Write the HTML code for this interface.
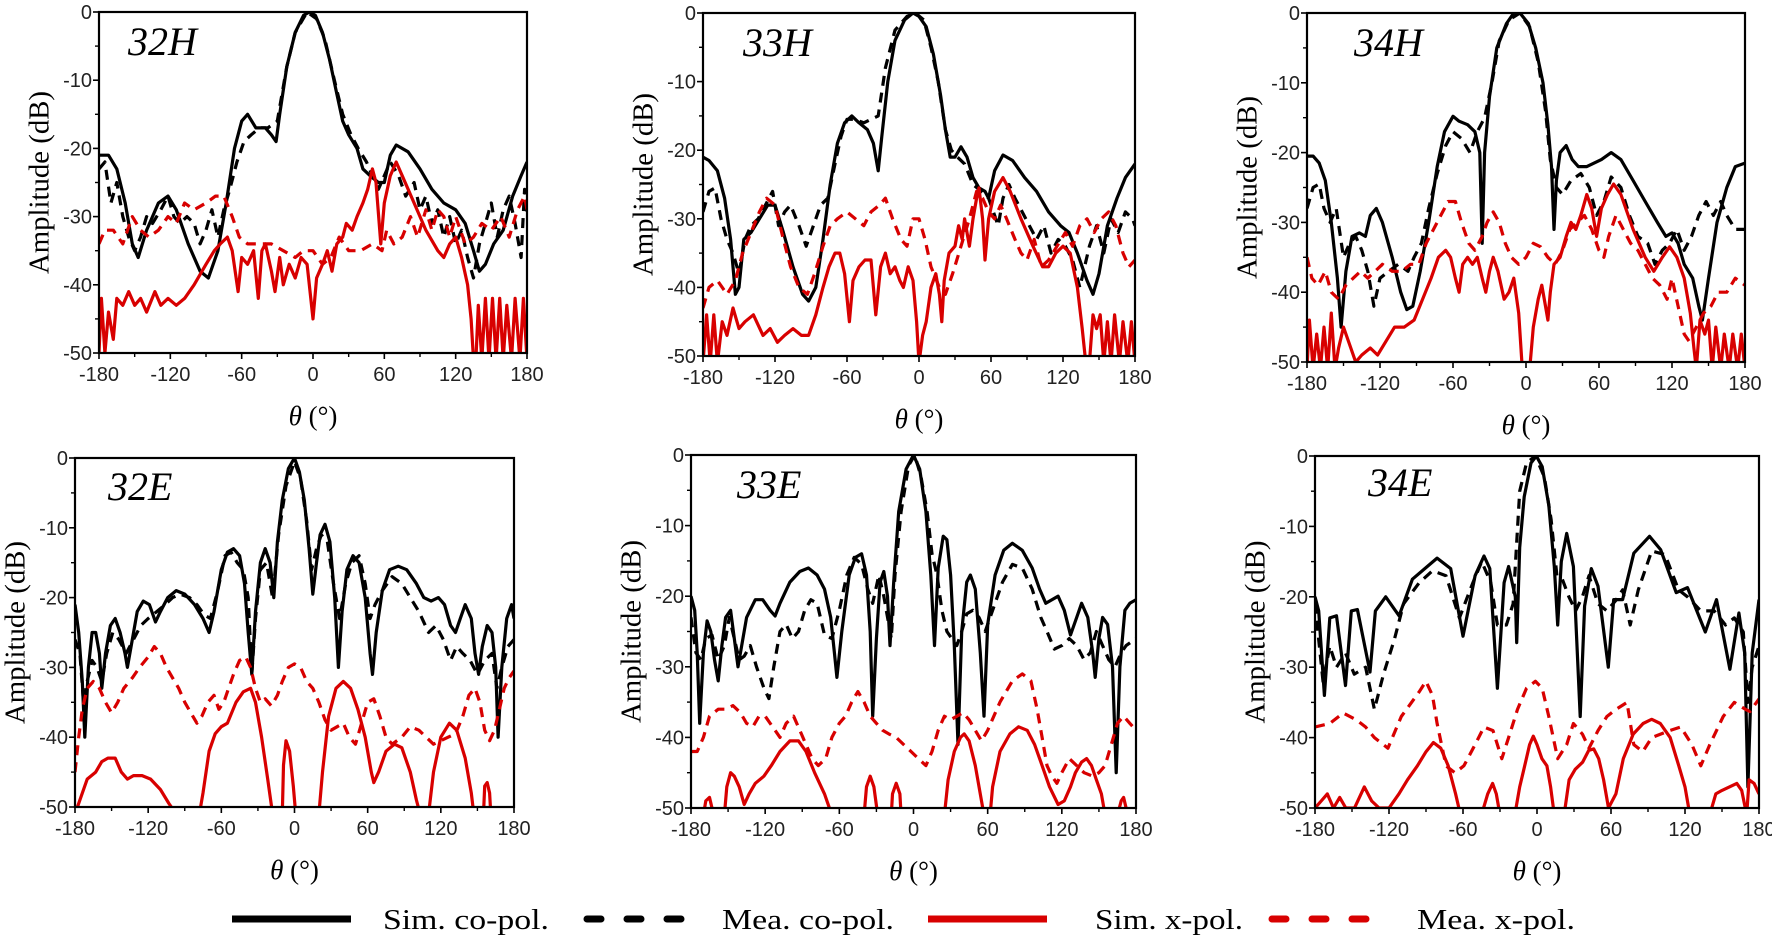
<!DOCTYPE html>
<html><head><meta charset="utf-8"><style>
html,body{margin:0;padding:0;background:#fff;}
svg{display:block;}
</style></head><body>
<svg id="fig" width="1772" height="938" viewBox="0 0 1772 938" xmlns="http://www.w3.org/2000/svg"></svg>
<script>
// ---------- data: [theta (deg), amplitude (dB)] ----------
const p32H_simCo=[[-180,-21],[-172,-21],[-165,-23],[-158,-28],[-152,-34],[-147,-36],[-140,-32],[-130,-28],[-122,-27],[-115,-29],[-105,-34],[-95,-38],[-88,-39],[-80,-35],[-73,-28],[-66,-20],[-60,-16],[-55,-15],[-48,-17],[-40,-17],[-35,-18],[-31,-19],[-28,-15],[-22,-8],[-15,-3],[-8,-0.5],[-3,0],[2,-0.5],[8,-3],[14,-7],[20,-12],[25,-16],[30,-18],[37,-20],[42,-23],[48,-24],[55,-25],[60,-25],[65,-21],[70,-19.5],[80,-20.5],[90,-23],[100,-26],[110,-28],[120,-29],[128,-31],[135,-35],[140,-38],[145,-37],[152,-34],[160,-32],[168,-27],[175,-24],[180,-22]];
const p32H_meaCo=[[-180,-23],[-175,-22],[-170,-28],[-165,-25],[-160,-30],[-155,-33],[-150,-35],[-145,-33],[-140,-30],[-135,-31],[-128,-29],[-122,-27],[-117,-30],[-112,-31],[-106,-30],[-100,-31],[-95,-34],[-90,-32],[-85,-29],[-80,-33],[-75,-29],[-70,-26],[-64,-22],[-58,-19],[-52,-18],[-45,-17],[-38,-17],[-30,-16],[-22,-8],[-15,-3],[-5,0],[3,-1],[10,-4],[18,-10],[25,-15],[32,-18],[38,-20],[45,-22],[50,-24],[55,-26],[60,-24],[65,-22],[72,-24],[78,-27],[85,-25],[90,-29],[95,-27],[100,-31],[105,-29],[110,-33],[115,-30],[120,-34],[125,-32],[130,-36],[135,-39],[140,-34],[145,-31],[150,-28],[155,-33],[160,-29],[165,-27],[170,-31],[175,-36],[178,-26],[180,-30]];
const p32H_simX=[[-180,-50],[-178,-42],[-175,-50],[-172,-44],[-168,-48],[-165,-42],[-160,-43],[-155,-41],[-150,-43],[-145,-42],[-140,-44],[-133,-41],[-128,-43],[-122,-42],[-115,-43],[-108,-42],[-100,-40],[-90,-37],[-83,-35],[-78,-34],[-72,-33],[-68,-35],[-63,-41],[-60,-36],[-55,-37],[-50,-35],[-46,-42],[-43,-35],[-40,-34],[-35,-38],[-32,-41],[-28,-36],[-25,-40],[-20,-37],[-15,-39],[-10,-36],[-5,-37],[0,-45],[3,-39],[8,-37],[12,-35],[16,-38],[20,-34],[25,-33],[28,-31],[33,-32],[37,-30],[42,-28],[46,-26],[50,-23],[53,-25],[57,-34],[60,-28],[65,-24],[70,-22],[75,-24],[85,-28],[95,-32],[105,-35],[110,-36],[115,-34],[120,-33],[125,-36],[130,-40],[133,-45],[135,-51],[137,-51],[139,-43],[142,-51],[145,-42],[148,-51],[151,-42],[154,-51],[157,-42],[160,-51],[163,-43],[167,-51],[170,-42],[174,-51],[177,-42],[180,-51]];
const p32H_meaX=[[-180,-34],[-175,-32],[-168,-32],[-160,-34],[-152,-30],[-145,-32],[-138,-33],[-130,-32],[-122,-30],[-115,-31],[-108,-28],[-100,-29],[-90,-28],[-82,-27],[-75,-27],[-68,-30],[-62,-33],[-55,-34],[-45,-34],[-35,-34],[-25,-35],[-15,-36],[-8,-35],[0,-35],[8,-37],[15,-36],[22,-33],[30,-35],[40,-35],[50,-34],[58,-35],[62,-32],[68,-34],[75,-33],[82,-30],[88,-33],[95,-29],[100,-32],[105,-29],[110,-30],[115,-33],[120,-30],[128,-34],[135,-33],[142,-31],[150,-32],[158,-30],[165,-33],[172,-29],[178,-27],[180,-29]];

const p33H_simCo=[[-180,-21],[-175,-21.5],[-168,-23],[-162,-27],[-157,-33],[-153,-41],[-150,-40],[-146,-33],[-140,-32],[-133,-30],[-126,-28],[-120,-28],[-113,-32],[-105,-37],[-97,-41],[-92,-42],[-86,-40],[-80,-33],[-74,-25],[-68,-19],[-62,-16],[-56,-15],[-50,-16],[-43,-17],[-38,-19],[-34,-23],[-31,-18],[-26,-10],[-20,-4],[-12,-1],[-5,0],[0,-0.5],[6,-2],[12,-6],[18,-12],[22,-17],[26,-21],[30,-21],[35,-19.5],[40,-21],[45,-24],[50,-25.5],[55,-26],[58,-27],[63,-23],[70,-20.7],[78,-21.5],[88,-24],[98,-26],[108,-29],[118,-31],[125,-32],[132,-35],[140,-39],[145,-41],[150,-38],[157,-31],[165,-27],[172,-24],[180,-22]];
const p33H_meaCo=[[-180,-29],[-175,-26],[-170,-25.5],[-165,-30],[-160,-33],[-155,-35],[-150,-38],[-145,-33],[-140,-31],[-134,-30],[-128,-28],[-122,-26],[-117,-31],[-112,-29],[-107,-28],[-100,-31],[-94,-34],[-88,-31],[-82,-28],[-76,-27],[-70,-22],[-65,-18],[-60,-15.5],[-54,-15.5],[-46,-16],[-40,-15.5],[-34,-15],[-28,-8],[-20,-2.5],[-10,-0.5],[-3,0],[4,-1],[10,-5],[16,-10],[22,-17],[27,-20],[32,-21],[38,-22],[45,-25],[52,-26],[58,-27],[62,-29],[66,-31],[70,-27],[75,-25],[80,-27],[86,-29],[92,-31],[98,-33],[104,-31],[110,-35],[116,-33],[122,-34],[128,-36],[134,-40],[138,-37],[142,-34],[148,-31],[154,-35],[160,-30],[166,-32],[172,-29],[178,-30],[180,-31]];
const p33H_simX=[[-180,-51],[-177,-44],[-174,-51],[-171,-44],[-168,-51],[-164,-45],[-160,-47],[-155,-43],[-150,-46],[-145,-45],[-138,-44],[-130,-47],[-124,-46],[-118,-48],[-112,-47],[-105,-46],[-98,-47],[-92,-47],[-86,-44],[-80,-40],[-75,-37],[-70,-35],[-66,-35],[-62,-38],[-58,-45],[-55,-39],[-50,-37],[-45,-36],[-40,-36],[-36,-44],[-32,-37],[-28,-35],[-24,-38],[-20,-37],[-16,-39],[-13,-40],[-9,-37],[-5,-39],[-2,-45],[0,-51],[3,-47],[6,-45],[10,-40],[14,-38],[17,-41],[19,-45],[21,-39],[25,-35],[30,-34],[33,-31],[36,-33],[38,-30],[42,-34],[45,-30],[48,-27],[50,-25.5],[53,-30],[55,-36],[58,-30],[63,-26],[70,-24],[76,-26],[85,-30],[95,-34],[103,-37],[108,-37],[114,-35],[120,-34],[126,-35],[132,-40],[136,-46],[139,-51],[142,-51],[145,-44],[148,-46],[151,-44],[154,-51],[157,-45],[160,-51],[163,-44],[167,-51],[170,-45],[174,-51],[177,-45],[180,-51]];
const p33H_meaX=[[-180,-43],[-175,-40],[-168,-39],[-160,-41],[-153,-39],[-147,-35],[-140,-32],[-133,-29],[-127,-27],[-120,-28],[-113,-33],[-107,-37],[-100,-40],[-93,-41],[-87,-38],[-80,-34],[-74,-31],[-68,-30],[-60,-29],[-53,-30],[-46,-31],[-40,-29],[-33,-28],[-28,-27],[-22,-30],[-15,-33],[-10,-34],[-5,-30],[0,-30],[5,-33],[10,-37],[17,-40],[22,-41],[28,-38],[35,-34],[42,-30],[48,-26],[53,-27],[58,-29],[63,-30],[68,-28],[73,-30],[80,-33],[85,-35],[90,-36],[96,-33],[102,-37],[108,-36],[115,-34],[122,-32],[128,-34],[134,-31],[140,-30],[146,-32],[152,-30],[158,-29],[164,-31],[170,-35],[175,-37],[180,-36]];

const p34H_simCo=[[-180,-20.5],[-175,-20.5],[-170,-21.5],[-165,-24],[-160,-30],[-155,-38],[-152,-45],[-148,-37],[-143,-32],[-137,-31.5],[-132,-32],[-128,-29],[-123,-28],[-118,-30],[-110,-35],[-103,-40],[-98,-42.5],[-93,-42],[-87,-37],[-80,-30],[-73,-22],[-67,-17],[-60,-14.8],[-55,-15.5],[-48,-16],[-42,-17],[-38,-20],[-36,-33],[-34,-20],[-30,-12],[-24,-5],[-16,-1.5],[-10,0],[-5,0],[2,-1.5],[8,-5],[14,-10],[18,-16],[21,-22],[23,-31],[25,-24],[28,-20],[33,-19],[38,-21],[43,-22],[50,-22],[56,-21.5],[62,-21],[70,-20],[78,-21],[88,-24],[98,-27],[108,-30],[115,-32],[120,-31.5],[125,-33],[130,-36],[137,-38],[142,-42],[145,-44],[150,-38],[157,-30],[165,-25],[172,-22],[180,-21.5]];
const p34H_meaCo=[[-180,-28],[-175,-25],[-170,-24.5],[-166,-28],[-161,-30],[-156,-28],[-150,-35],[-145,-33],[-140,-32],[-135,-34],[-130,-37],[-125,-42],[-120,-38],[-113,-37],[-105,-36],[-97,-37],[-92,-35],[-86,-33],[-80,-28],[-73,-23],[-66,-19],[-60,-17],[-53,-18],[-46,-20],[-40,-17],[-34,-15],[-28,-10],[-22,-4],[-14,-1],[-5,0],[3,-2],[10,-7],[16,-14],[20,-21],[25,-25],[30,-26],[37,-24],[45,-23],[52,-25],[58,-29],[64,-27],[70,-23.5],[78,-25],[85,-29],[92,-32],[100,-33],[106,-36],[112,-34],[118,-33],[124,-31],[130,-34],[136,-32],[142,-29],[148,-27],[154,-29],[160,-27],[165,-29],[172,-31],[180,-31]];
const p34H_simX=[[-180,-51],[-178,-44],[-175,-51],[-172,-46],[-169,-51],[-166,-45],[-163,-51],[-160,-43],[-157,-51],[-154,-48],[-150,-45],[-146,-47],[-140,-50],[-135,-49],[-128,-48],[-122,-49],[-115,-47],[-108,-45],[-100,-45],[-92,-44],[-85,-41],[-78,-38],[-72,-35],[-66,-34],[-62,-35],[-58,-38],[-55,-40],[-52,-36],[-48,-35],[-44,-36],[-40,-35],[-36,-38],[-33,-40],[-30,-37],[-27,-35],[-23,-37],[-18,-41],[-14,-40],[-10,-38],[-6,-43],[-3,-51],[3,-51],[6,-45],[10,-41],[13,-39],[16,-42],[18,-44],[20,-40],[23,-36],[28,-35],[33,-32],[37,-30],[41,-31],[45,-29],[50,-26],[54,-28],[58,-32],[62,-28],[67,-26],[72,-24.5],[78,-26],[88,-31],[98,-35],[105,-37],[112,-35],[118,-33.5],[124,-35],[130,-38],[135,-43],[138,-48],[140,-51],[143,-44],[147,-46],[150,-44],[153,-51],[156,-45],[160,-51],[163,-46],[167,-51],[170,-46],[174,-51],[177,-46],[180,-51]];
const p34H_meaX=[[-180,-35],[-176,-38],[-171,-39],[-165,-37],[-160,-40],[-154,-41],[-148,-39],[-142,-38],[-136,-37],[-130,-38],[-124,-37],[-118,-36],[-110,-37],[-102,-37],[-95,-36],[-88,-36],[-82,-33],[-76,-31],[-70,-29],[-64,-27],[-58,-27],[-53,-30],[-47,-33],[-42,-34],[-36,-32],[-32,-30],[-27,-28.5],[-22,-30],[-17,-33],[-12,-35],[-6,-36],[0,-35],[6,-33],[12,-33.5],[18,-35],[24,-36],[30,-34],[36,-31],[42,-30],[48,-29],[54,-31],[60,-34],[64,-35],[68,-32],[74,-29],[80,-31],[86,-33],[92,-34],[98,-36],[104,-38],[110,-39],[116,-41],[120,-38],[125,-42],[130,-46],[134,-47],[140,-45],[146,-43],[152,-42],[158,-40],[165,-40],[172,-38],[180,-39]];

const p32E_simCo=[[-180,-21],[-177,-25],[-174,-32],[-172,-40],[-169,-30],[-166,-25],[-163,-25],[-160,-28],[-158,-33],[-155,-28],[-151,-24],[-147,-23],[-143,-25],[-139,-28],[-137,-30],[-134,-27],[-129,-22],[-124,-20.5],[-119,-21],[-114,-23.5],[-110,-22],[-104,-20],[-97,-19],[-90,-19.5],[-82,-21],[-75,-23],[-70,-25],[-66,-22],[-60,-16],[-55,-13.5],[-50,-13],[-45,-14],[-41,-18],[-38,-25],[-35,-31],[-32,-22],[-28,-15],[-24,-13],[-20,-15],[-17,-20],[-14,-12],[-10,-6],[-5,-1.5],[0,0],[4,-2],[8,-6],[12,-13],[15,-19.5],[18,-15],[21,-11],[25,-9.5],[29,-12],[33,-20],[36,-30],[39,-22],[43,-16],[48,-14],[53,-15],[58,-20],[62,-28],[64,-31],[67,-25],[72,-19],[78,-16],[85,-15.5],[92,-16],[100,-18],[106,-20],[112,-20.5],[118,-20],[123,-21],[128,-24],[132,-25],[136,-23],[140,-21],[145,-23],[148,-28],[151,-31],[154,-27],[158,-24],[162,-25],[165,-30],[167,-40],[170,-30],[174,-23],[178,-21],[180,-23]];
const p32E_meaCo=[[-180,-26],[-176,-28],[-173,-35],[-170,-32],[-166,-29],[-162,-30],[-158,-32],[-154,-28],[-149,-25],[-144,-26],[-138,-28],[-132,-26],[-126,-24],[-120,-23],[-113,-22],[-106,-21],[-100,-20],[-94,-19.5],[-86,-20],[-80,-21],[-74,-22.5],[-69,-23],[-63,-19],[-57,-14],[-52,-13.5],[-47,-15],[-42,-16],[-38,-20],[-35,-31],[-32,-23],[-28,-16],[-23,-15],[-18,-20],[-13,-11],[-7,-4],[0,-0.5],[5,-3],[10,-9],[14,-16],[18,-13],[22,-11],[27,-12],[32,-18],[37,-23],[42,-18],[47,-15],[53,-14],[58,-18],[62,-23],[66,-21],[72,-19],[80,-17],[88,-18],[95,-20],[102,-22],[110,-25],[116,-24],[122,-26],[128,-29],[133,-27],[138,-28],[144,-29],[150,-31],[156,-29],[162,-28],[166,-33],[170,-30],[175,-27],[180,-26]];
const p32E_simX=[[-180,-51],[-176,-49],[-170,-46],[-163,-45],[-158,-43.5],[-153,-43],[-147,-43],[-142,-45],[-137,-46],[-132,-45.5],[-125,-45.5],[-118,-46],[-110,-47.5],[-103,-49.5],[-97,-51],[-78,-51],[-75,-48],[-70,-42],[-65,-39.5],[-60,-38.5],[-55,-38],[-48,-35],[-42,-33.5],[-36,-33],[-32,-35],[-27,-40],[-22,-46],[-18,-51],[-10,-51],[-9,-44],[-7,-40.5],[-4,-42],[-1,-47],[1,-51],[20,-51],[23,-45],[28,-37],[34,-33],[40,-32],[46,-33],[52,-36],[58,-40],[63,-45],[65,-46.5],[69,-45],[75,-42],[82,-41],[88,-41.5],[95,-45],[100,-49],[103,-51],[110,-51],[114,-45],[120,-40],[127,-38],[133,-39],[140,-43],[145,-48],[147,-51],[155,-51],[156,-47],[158,-46.5],[160,-48],[161,-51],[180,-51]];
const p32E_meaX=[[-180,-45],[-177,-40],[-174,-36],[-170,-33],[-165,-32],[-160,-33],[-155,-35],[-150,-36.5],[-145,-35],[-140,-33],[-133,-31.5],[-127,-30],[-120,-28.5],[-115,-27],[-110,-28],[-105,-30],[-100,-31.5],[-95,-33],[-90,-35],[-85,-36.5],[-80,-38],[-76,-37],[-71,-35],[-66,-34],[-62,-36],[-58,-35],[-54,-33],[-50,-31],[-45,-29],[-40,-28.5],[-36,-30],[-32,-33],[-28,-35],[-24,-34.5],[-19,-35.5],[-14,-34],[-10,-32],[-5,-30],[0,-29.5],[5,-30],[10,-32],[15,-33],[20,-35],[25,-37.5],[30,-39],[35,-38.5],[40,-38],[45,-40],[50,-41],[55,-38],[60,-35],[65,-34.5],[70,-37],[75,-40],[80,-41],[88,-40],[95,-38.5],[102,-39],[108,-40],[114,-41],[120,-40.5],[126,-40],[132,-39.5],[138,-37],[143,-34],[148,-33],[152,-35],[156,-39],[160,-40.5],[164,-39],[168,-36],[172,-33],[176,-31.5],[180,-30.5]];

const p33E_simCo=[[-180,-20],[-177,-22],[-175,-28],[-173,-38],[-170,-28],[-167,-23.5],[-164,-25],[-161,-29],[-158,-32],[-155,-27],[-152,-23],[-148,-22],[-145,-26],[-142,-30],[-139,-27],[-135,-23],[-128,-20.5],[-122,-20.5],[-116,-22],[-112,-22.8],[-108,-21],[-100,-18],[-92,-16.5],[-85,-16],[-78,-17],[-72,-19],[-67,-23],[-64,-28],[-62,-31.5],[-58,-25],[-52,-17],[-47,-14.5],[-42,-14],[-38,-17],[-35,-25],[-33,-37],[-30,-26],[-27,-18],[-24,-16.5],[-21,-20],[-19,-27],[-16,-18],[-12,-8],[-6,-2],[0,0],[5,-2],[10,-8],[14,-17],[17,-27],[20,-16],[24,-11.5],[27,-12],[30,-17],[33,-27],[36,-41],[39,-25],[43,-18],[46,-17],[50,-19],[54,-28],[57,-37],[60,-24],[66,-17],[73,-13.5],[80,-12.5],[88,-13.5],[96,-16],[102,-19],[107,-21],[112,-20.5],[117,-20],[122,-22],[127,-25.5],[132,-23],[136,-21],[141,-23],[145,-28],[147,-31.5],[150,-26],[153,-23],[157,-24],[161,-30],[164,-45],[167,-30],[171,-22],[175,-21],[180,-20.5]];
const p33E_meaCo=[[-180,-23],[-176,-28],[-172,-29],[-168,-26],[-163,-25.5],[-158,-29],[-153,-27],[-149,-23],[-145,-26],[-141,-29],[-137,-28.5],[-132,-27],[-127,-30],[-121,-33],[-117,-34.5],[-113,-30],[-108,-25],[-103,-24],[-98,-26],[-93,-25],[-88,-22],[-83,-20.5],[-78,-21],[-72,-25.5],[-66,-26],[-60,-22],[-54,-17],[-48,-14.5],[-42,-15.5],[-37,-19],[-33,-21],[-28,-17],[-24,-20],[-18,-26],[-15,-17],[-10,-8],[-4,-1.5],[1,0],[6,-3],[11,-8],[15,-14],[19,-17],[23,-22],[27,-25],[31,-26],[35,-27],[39,-25],[43,-22.5],[48,-22],[53,-23],[58,-25],[64,-22],[72,-18],[80,-15.5],[88,-16],[96,-19],[103,-23],[108,-25],[114,-27.5],[120,-27],[126,-26],[132,-27],[138,-29],[143,-28],[148,-25],[153,-27],[158,-29],[163,-30],[168,-28],[172,-27],[176,-26.5],[180,-26]];
const p33E_simX=[[-180,-51],[-170,-51],[-168,-49],[-165,-48.5],[-163,-50],[-161,-51],[-153,-51],[-151,-47],[-148,-45],[-145,-45.5],[-141,-47],[-137,-49.5],[-133,-48],[-128,-46.5],[-121,-45.5],[-115,-44],[-108,-42],[-100,-40.5],[-93,-40.5],[-87,-42],[-80,-45],[-72,-48],[-68,-50],[-65,-51],[-40,-51],[-38,-47],[-35,-45.5],[-32,-47],[-29,-51],[-18,-51],[-17,-48],[-14,-46.5],[-11,-48],[-10,-51],[25,-51],[28,-46],[33,-42],[38,-40],[41,-39.5],[45,-40.5],[50,-44],[55,-49],[57,-51],[62,-51],[64,-47],[70,-42],[78,-39.5],[85,-38.5],[92,-39],[98,-41],[104,-44],[110,-47],[117,-49.5],[122,-49],[127,-47],[131,-45],[136,-43.5],[140,-43],[144,-44],[148,-46],[152,-48],[155,-51],[165,-51],[168,-49],[170,-48.5],[172,-50],[173,-51],[180,-51]];
const p33E_meaX=[[-180,-42],[-175,-42],[-170,-40],[-165,-37],[-158,-36],[-152,-36],[-146,-35.5],[-140,-36.5],[-135,-38],[-130,-38.5],[-125,-37],[-120,-37],[-114,-38.5],[-108,-40],[-103,-38],[-97,-37],[-92,-39],[-87,-41],[-82,-43],[-77,-44],[-71,-43],[-66,-40],[-60,-38],[-55,-37],[-50,-35],[-45,-33.5],[-40,-35],[-35,-37],[-30,-38],[-25,-39],[-20,-39.5],[-14,-40],[-8,-41],[-2,-42],[4,-43],[10,-44],[15,-42],[20,-39],[25,-37],[30,-37.5],[35,-37],[40,-36.5],[45,-37.5],[50,-39],[55,-40.5],[60,-39],[65,-37],[70,-35],[75,-33.5],[80,-32],[88,-31],[95,-32],[100,-36],[104,-40],[108,-44],[112,-45.5],[116,-46.5],[120,-45],[126,-43],[132,-44],[138,-45],[145,-45.5],[150,-45],[155,-44],[160,-41],[165,-38],[170,-37],[175,-38],[180,-39]];

const p34E_simCo=[[-180,-20],[-177,-22],[-172.4,-34],[-168,-23],[-162.6,-22.7],[-155.3,-32.6],[-150.6,-22],[-145.6,-21.8],[-135.4,-30.7],[-131,-22],[-122.7,-20],[-111.8,-22.7],[-101,-17.5],[-81,-14.5],[-70,-16],[-60,-25.6],[-50.2,-17],[-43,-14.2],[-38.3,-16],[-32.1,-33],[-26.7,-18],[-23,-15.7],[-17.6,-20],[-16.5,-26.5],[-14,-13],[-10.4,-5.8],[-4.9,-1],[-0.6,0],[4.2,-1.5],[9.6,-7],[14,-15.7],[16.8,-24],[19.7,-15],[24.1,-11],[29.5,-15.7],[35,-37],[38.6,-21.3],[44,-16],[49.5,-18.5],[57.8,-30],[62.2,-20.4],[69.4,-20.4],[78.5,-13.8],[91.2,-11.4],[100.2,-13.3],[112.9,-19.4],[122,-18.7],[136.5,-25],[145.5,-20.4],[156.4,-30.3],[163.7,-22.3],[168.4,-28],[171,-47],[174.5,-28],[180,-20.4]];
const p34E_meaCo=[[-180,-21],[-173.5,-32],[-168,-27],[-162.6,-30],[-155.3,-28],[-148.1,-31],[-139,-30],[-131.8,-36],[-124.5,-31],[-115.5,-26],[-108.2,-21],[-95.5,-18],[-84.7,-16.3],[-73.8,-17],[-62.9,-23],[-52,-18],[-44.8,-15],[-37.5,-18],[-32.1,-24],[-24.8,-24],[-19.4,-21],[-14,-5],[-8.5,-1],[-1.3,0],[6,-3],[11.4,-9],[16.1,-17],[20.5,-17.5],[25.9,-20],[31.3,-22],[36.8,-20],[42.2,-17],[49.5,-21],[56.7,-22],[64,-20.5],[69.4,-19],[75.6,-24],[82.1,-19],[93,-13.5],[103.8,-14],[114.7,-19],[122,-20],[132.8,-22],[143.7,-22],[152.8,-24],[160,-23],[167.3,-25],[171,-35],[174.5,-30],[180,-27]];
const p34E_simX=[[-180,-50],[-175,-49],[-170,-48],[-165,-50],[-160,-48.5],[-155,-50],[-148,-50],[-140,-47],[-134,-49],[-128,-50],[-120,-50],[-112,-48],[-105,-46],[-97,-44],[-90,-42],[-84,-40.7],[-78,-41.5],[-72,-44],[-66,-48],[-62,-51],[-45,-51],[-40,-48],[-36,-46.5],[-33,-48],[-30,-51],[-18,-51],[-14,-47],[-10,-44],[-6,-41],[-3,-39.8],[0,-41],[4,-43],[8,-44],[11,-47],[14,-51],[22,-51],[26,-46],[31,-44.5],[37,-43.5],[42,-41.8],[46,-41.6],[50,-43],[54,-46],[58,-50],[64,-48],[70,-43],[78,-39.5],[86,-38],[93,-37.4],[100,-38],[108,-40],[115,-44],[120,-47],[124,-51],[140,-51],[145,-48],[150,-47.5],[156,-47],[162,-46.5],[166,-47.5],[170,-51],[172,-46],[176,-46.5],[180,-48]];
const p34E_meaX=[[-180,-38.5],[-168,-38],[-157.2,-36.5],[-146.3,-37.5],[-139,-38.5],[-131.8,-40],[-120.9,-41.5],[-110,-37],[-95.5,-33.5],[-90.1,-32],[-84.7,-34],[-81,-38],[-73.8,-44],[-66.5,-45],[-59.3,-44],[-50.2,-41],[-43,-38.5],[-35.7,-39],[-28.5,-43],[-23,-40],[-15.8,-36],[-8.5,-33],[-1.3,-32],[4.2,-33],[9.6,-37],[16.8,-43],[24.1,-41],[29.5,-38],[36.8,-39.5],[42.2,-41.5],[49.5,-39],[56.7,-37],[64,-36],[73,-35],[78.5,-41],[85.7,-42],[93,-40],[100.2,-39.5],[107.5,-39],[116.5,-38.5],[125.6,-41],[132.8,-44],[140.1,-41],[151,-37],[160,-35],[169.1,-36],[172.7,-36.3],[180,-34.5]];

const xTicks=[-180,-120,-60,0,60,120,180];
const yTicks=[0,-10,-20,-30,-40,-50];
const legendLabels=["Sim. co-pol.","Mea. co-pol.","Sim. x-pol.","Mea. x-pol."];

// ---------- layout ----------
const panels=[
 {id:"32H",l:99,r:527,t:12,b:353,tx:29,ty:43,data:[p32H_simCo,p32H_meaCo,p32H_simX,p32H_meaX]},
 {id:"33H",l:703,r:1135,t:13,b:356,tx:40,ty:43,data:[p33H_simCo,p33H_meaCo,p33H_simX,p33H_meaX]},
 {id:"34H",l:1307,r:1745,t:13,b:362,tx:47,ty:43,data:[p34H_simCo,p34H_meaCo,p34H_simX,p34H_meaX]},
 {id:"32E",l:75,r:514,t:458,b:807,tx:33,ty:42,data:[p32E_simCo,p32E_meaCo,p32E_simX,p32E_meaX]},
 {id:"33E",l:691,r:1136,t:455,b:808,tx:46,ty:43,data:[p33E_simCo,p33E_meaCo,p33E_simX,p33E_meaX]},
 {id:"34E",l:1315,r:1759,t:456,b:808,tx:53,ty:40,data:[p34E_simCo,p34E_meaCo,p34E_simX,p34E_meaX]}
];
const styles=[
 {c:"#000",d:"",n:"sim-co-pol-line"},
 {c:"#000",d:"10 7",n:"mea-co-pol-line"},
 {c:"#d80000",d:"",n:"sim-x-pol-line"},
 {c:"#d80000",d:"10 7",n:"mea-x-pol-line"}
];
const NS="http://www.w3.org/2000/svg";
const svg=document.getElementById("fig");
function mk(tag,attrs,parent){const e=document.createElementNS(NS,tag);for(const k in attrs)e.setAttribute(k,attrs[k]);(parent||svg).appendChild(e);return e;}
const defs=mk("defs",{});
panels.forEach((p,pi)=>{
  const xs=th=>p.l+(th+180)/360*(p.r-p.l);
  const ys=v=>p.t+(-v)/50*(p.b-p.t);
  const g=mk("g",{});
  
  
  const cp=mk("clipPath",{id:"clip"+pi},defs);
  mk("rect",{x:p.l,y:p.t,width:p.r-p.l,height:p.b-p.t},cp);
  // series
  const sg=mk("g",{"clip-path":"url(#clip"+pi+")"},g);
  [1,0,3,2].forEach(si=>{
    const st=styles[si];
    const pts=p.data[si].map(d=>xs(d[0]).toFixed(1)+","+ys(d[1]).toFixed(1)).join(" ");
    const pl=mk("polyline",{points:pts,fill:"none",stroke:st.c,"stroke-width":3.2,"stroke-linejoin":"round","stroke-linecap":"butt"},sg);
    if(st.d)pl.setAttribute("stroke-dasharray",st.d);
    
    
  });
  // frame
  const fr=mk("rect",{x:p.l,y:p.t,width:p.r-p.l,height:p.b-p.t,fill:"none",stroke:"#000","stroke-width":2.2},g);
  
  
  // x ticks
  xTicks.forEach(v=>{
    const x=xs(v);
    mk("line",{x1:x,x2:x,y1:p.b,y2:p.b+6,stroke:"#000","stroke-width":1.6},g);
    const t=mk("text",{x:x,y:p.b+28,"text-anchor":"middle","font-family":"Liberation Sans, Arial, sans-serif","font-size":20,fill:"#222"},g);
    t.textContent=String(v);
    
    
  });
  for(let v=-150;v<180;v+=60){const x=xs(v);mk("line",{x1:x,x2:x,y1:p.b,y2:p.b+4,stroke:"#000","stroke-width":1.4},g);}
  yTicks.forEach(v=>{
    const y=ys(v);
    mk("line",{x1:p.l-6,x2:p.l,y1:y,y2:y,stroke:"#000","stroke-width":1.6},g);
    const t=mk("text",{x:p.l-7,y:y+7,"text-anchor":"end","font-family":"Liberation Sans, Arial, sans-serif","font-size":20,fill:"#222"},g);
    t.textContent=String(v);
    
    
  });
  for(let v=-5;v>-50;v-=10){const y=ys(v);mk("line",{x1:p.l-4,x2:p.l,y1:y,y2:y,stroke:"#000","stroke-width":1.4},g);}
  // titles
  const tt=mk("text",{x:p.l+p.tx,y:p.t+p.ty,"font-family":"Liberation Serif, Times New Roman, serif","font-style":"italic","font-size":40,fill:"#000"},g);
  tt.textContent=p.id;
  
  
  const cy=(p.t+p.b)/2, cx=p.l-57;
  const yt=mk("text",{x:cx,y:cy,transform:"rotate(-90 "+cx+" "+cy+")","text-anchor":"middle","dominant-baseline":"middle","font-family":"Liberation Serif, Times New Roman, serif","font-size":28,fill:"#000",textLength:183,lengthAdjust:"spacingAndGlyphs"},g);
  yt.textContent="Amplitude (dB)";
  
  
  const xt=mk("text",{x:(p.l+p.r)/2,y:p.b+72,"text-anchor":"middle","font-family":"Liberation Serif, Times New Roman, serif","font-size":27,fill:"#000"},g);
  const th=mk("tspan",{"font-style":"italic"},xt);th.textContent="θ";
  const rest=mk("tspan",{},xt);rest.textContent=" (°)";
  
  
});
// legend
const lg=mk("g",{});


const legX=[232,581,928,1266], legTX=[383,722,1095,1417], legTW=[166,172,148,158];
legendLabels.forEach((lab,i)=>{
  const st=styles[i];
  const e=mk("g",{},lg);
  
  
  const ln=mk("line",{x1:legX[i],x2:legX[i]+119,y1:919,y2:919,stroke:st.c,"stroke-width":7,"stroke-linecap":st.d?"round":"butt"},e);
  if(st.d)ln.setAttribute("stroke-dasharray","14 26");
  if(st.d){ln.setAttribute("x1",legX[i]+6);ln.setAttribute("x2",legX[i]+113);}
  const t=mk("text",{x:legTX[i],y:929,"font-family":"Liberation Serif, Times New Roman, serif","font-size":29,fill:"#000",textLength:legTW[i],lengthAdjust:"spacingAndGlyphs"},e);
  t.textContent=lab;
});
</script>
</body></html>
